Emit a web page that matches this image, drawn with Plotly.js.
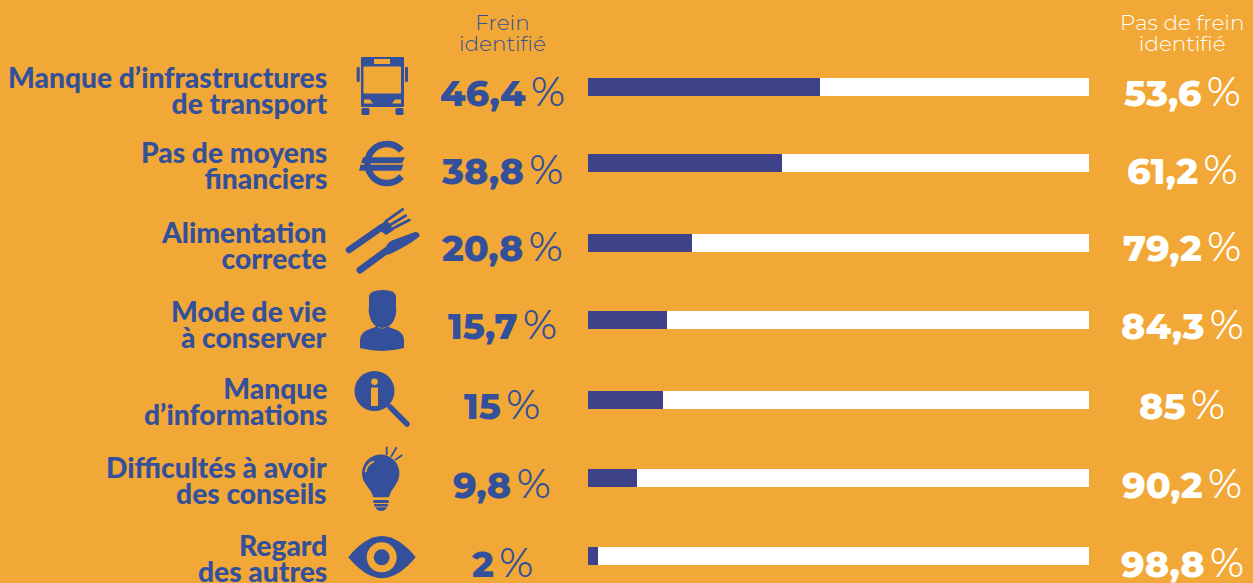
<!DOCTYPE html>
<html><head><meta charset="utf-8">
<script src="https://cdn.plot.ly/plotly-3.0.1.min.js"></script>
<style>html,body{margin:0;padding:0;background:#F2A836;overflow:hidden}</style>
</head><body><div id="chart" style="width:1253px;height:583px"></div>
<script>
const categoryLine1 = ["Manque d’infrastructures","Pas de moyens","Alimentation","Mode de vie","Manque","Difficultés à avoir","Regard"];
const categoryLine2 = ["de transport","financiers","correcte","à conserver","d’informations","des conseils","des autres"];
const freinValues = [46.4,38.8,20.8,15.7,15,9.8,2];
const pasDeFreinValues = [53.6,61.2,79.2,84.3,85,90.2,98.8];
const seriesHeaders = [["Frein","identifié"],["Pas de frein","identifié"]];

const W=1253,H=583,BG="#F2A836",TXT="#34509A",BAR="#3E4389",WHITE="#FFFFFF";
const rowY=[87,163,243,320,400,478,556], numY=[91,169,246,324,404,483,562];
const labelY=[90,164.500,245,324,400.500,479.500,558];
const px=x=>x/W, py=y=>1-y/H;
const FONT_L="Lato", FONT_N="Montserrat, Inter, sans-serif";
const fr=v=>String(v).replace(".",",");
const ann=[];
function t(text,x,y,size,color,anchor,family,weight){
  ann.push({text,x:px(x),y:py(y),xref:"paper",yref:"paper",xanchor:anchor,yanchor:"middle",showarrow:false,align:anchor,
    font:{family,size,color,weight},borderpad:0,borderwidth:0});
}
const sized=(s,size)=>'<span style="font-size:'+size+'px">'+s+'</span>';
categoryLine1.forEach((s,i)=>{
  t(sized(s,28.200)+"<br>"+sized(categoryLine2[i],28.200),327,labelY[i],20,TXT,"right",FONT_L,900);
});
function num(v,x,y,color){
  t('<span style="font-weight:800">'+fr(v)+'</span><span style="font-weight:400;font-size:41px">\u2009%</span>',x,y,36.500,color,"center",FONT_N,400);
}
freinValues.forEach((v,i)=>num(v,502,numY[i],TXT));
pasDeFreinValues.forEach((v,i)=>num(v,1182,numY[i],WHITE));
t(sized(seriesHeaders[0][0],21.500)+"<br>"+sized(seriesHeaders[0][1],21.500),502,32.500,16,TXT,"center",FONT_N,300);
t(sized(seriesHeaders[1][0],21.500)+"<br>"+sized(seriesHeaders[1][1],21.500),1182,32.500,16,WHITE,"center",FONT_N,300);

function icon(x,y,w,h,inner){
  const svg=`<svg xmlns="http://www.w3.org/2000/svg" width="${w}" height="${h}" viewBox="${x} ${y} ${w} ${h}">${inner}</svg>`;
  return {source:"data:image/svg+xml;charset=utf-8,"+encodeURIComponent(svg),xref:"paper",yref:"paper",
    x:px(x),y:py(y),sizex:w/W,sizey:h/H,xanchor:"left",yanchor:"top",sizing:"stretch",layer:"above"};
}
const B=TXT,O=BG;
const images=[
 icon(355,55,55,62,`<rect x="361" y="57" width="43" height="50" rx="1" fill="${B}"/><rect x="356.700" y="67" width="3" height="15" rx="1" fill="${B}"/><rect x="405" y="67" width="3" height="15" rx="1" fill="${B}"/><rect x="374" y="59" width="16" height="5" fill="${O}"/><rect x="363.500" y="66.500" width="37.500" height="27" rx="1" fill="${O}"/><path d="M364 99.500h6l3 4h-9zM401 99.500h-6l-3 4h9z" fill="${O}"/><rect x="361.500" y="108" width="8" height="7" rx="1.500" fill="${B}"/><rect x="395.500" y="108" width="8" height="7" rx="1.500" fill="${B}"/>`),
 icon(356,138,52,52,`<path d="M401.500 150.500A19.500 19.500 0 1 0 401.500 176.500" fill="none" stroke="${B}" stroke-width="6.500"/><path d="M363 157.300H405L402 163.300H361ZM360.500 164.700H403.500L401 170.700H359Z" fill="${B}"/>`),
 icon(342,206,80,72,`<path d="M349 250L382 227" stroke="${B}" stroke-width="6.500" stroke-linecap="round"/><path d="M378 229L386 219L394 230L386 235Z" fill="${B}"/><path d="M386.700 220.700L402.700 209.300M390 225L405.700 215.700M393.300 228.300L409.300 220" stroke="${B}" stroke-width="2.800" stroke-linecap="round"/><path d="M360 270L390 248" stroke="${B}" stroke-width="7" stroke-linecap="round"/><path d="M386.500 246Q388 242 392 240.500L415 232Q420 232 419.500 236.500Q406 247 388 255Z" fill="${B}"/>`),
 icon(358,289,48,64,`<path d="M369 296Q370 290 383 290Q395 290 396 296V308Q397 310 396 313Q394 327 382 328Q371 327 369 313Q368 310 369 308Z" fill="${B}"/><path d="M360 340Q360 332 370 329Q376 327 376 326Q382 331 388 326Q388 327 394 329Q404 332 404 340V348Q382 354 360 348Z" fill="${B}"/>`),
 icon(352,371,60,56,`<circle cx="374.500" cy="391" r="20" fill="${B}"/><circle cx="374.500" cy="381.700" r="3.300" fill="${O}"/><rect x="371" y="387.500" width="7" height="18.500" fill="${O}"/><path d="M390 407L407 424" stroke="${B}" stroke-width="5.500" stroke-linecap="round"/>`),
 icon(358,444,48,68,`<path d="M380.700 454.600A18.700 18.700 0 0 1 399.400 473.300C399.400 484 391 488 389 497.300H373.300C371 488 362 484 362 473.300A18.700 18.700 0 0 1 380.700 454.600Z" fill="${B}"/><path d="M365.700 471.700Q367 464 373.300 461.700" fill="none" stroke="${O}" stroke-width="1.800" stroke-linecap="round"/><rect x="373" y="500" width="16" height="3" rx="1.500" fill="${B}"/><rect x="374" y="504" width="14" height="2.400" rx="1.200" fill="${B}"/><path d="M375.500 507.300H387Q385.500 511 381 511Q377 511 375.500 507.300Z" fill="${B}"/><path d="M386.700 446.700V455M396.700 447.300L391 456.700M402.300 455L395 460" stroke="${B}" stroke-width="1.800"/>`),
 icon(346,534,72,48,`<path d="M348.300 557.300C358 545 370 536 381.700 536C394 536 406 545 415.700 557.300C406 569 394 578.300 381.700 578.300C370 578.300 358 569 348.300 557.300Z" fill="${B}"/><circle cx="381.700" cy="557.300" r="15" fill="${O}"/><circle cx="381.700" cy="557.300" r="8" fill="${B}"/>`)
];
const shared={type:"bar",orientation:"h",y:rowY,width:18,hoverinfo:"x"};
const data=[
 Object.assign({},shared,{name:"Frein identifié",x:freinValues,marker:{color:BAR,line:{width:0}}}),
 Object.assign({},shared,{name:"Pas de frein identifié",x:pasDeFreinValues,marker:{color:WHITE,line:{width:0}}})
];
const layout={width:W,height:H,margin:{l:0,r:0,t:0,b:0,pad:0},paper_bgcolor:BG,plot_bgcolor:BG,showlegend:false,barmode:"stack",
 xaxis:{domain:[588/W,1089/W],range:[0,100],visible:false,fixedrange:true},
 yaxis:{domain:[0,1],range:[H,0],visible:false,fixedrange:true},
 annotations:ann,images};
Plotly.newPlot("chart",data,layout,{displayModeBar:false,staticPlot:true});
</script></body></html>
